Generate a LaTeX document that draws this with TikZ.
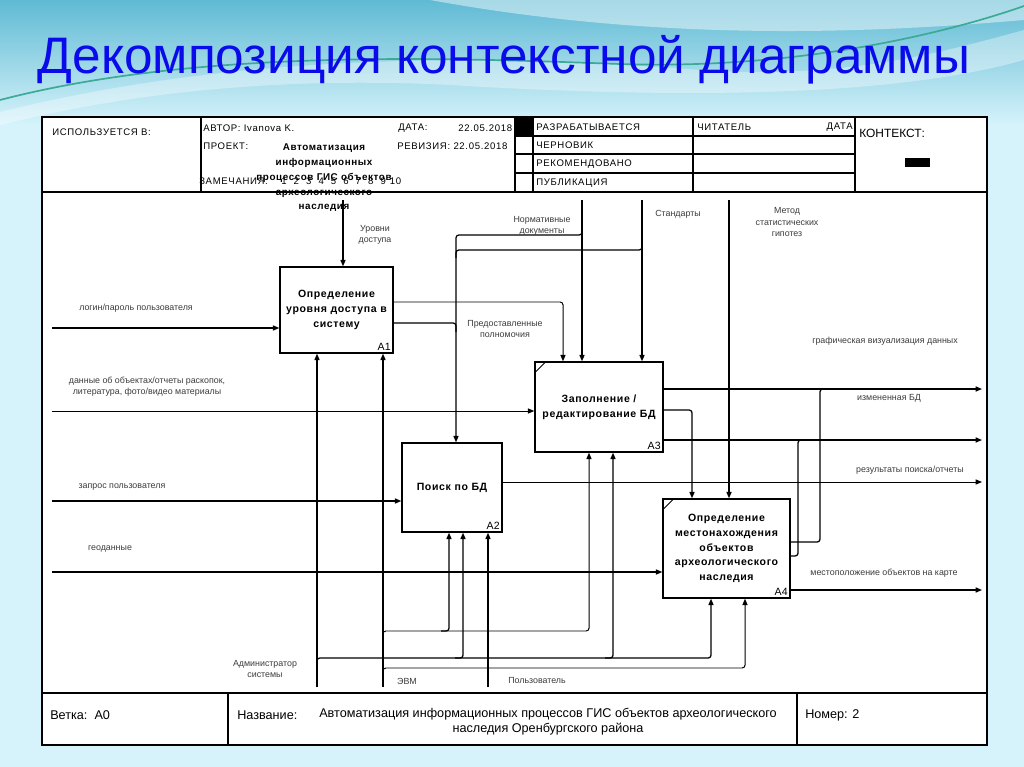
\documentclass[tikz,border=0pt]{standalone}
\usepackage{fontspec}
\setmainfont{Liberation Sans}
\newfontfamily\boxfont[LetterSpace=6]{Liberation Sans}
\newfontfamily\hdrfont[LetterSpace=7]{Liberation Sans}
\usetikzlibrary{positioning, arrows.meta, calc}
\definecolor{titleblue}{RGB}{10,10,235}
\definecolor{bglight}{RGB}{214,243,251}
\definecolor{bgtop}{RGB}{96,186,212}
\definecolor{wavegreen}{RGB}{60,170,150}
\definecolor{lblgray}{RGB}{60,60,60}

\begin{document}
\begin{tikzpicture}[
    x=0.025cm, y=-0.025cm,
    box/.style={draw, line width=1pt, inner sep=1pt, align=center, fill=white, font=\boxfont\bfseries\fontsize{7.5}{10.5}\selectfont},
    num/.style={anchor=south east, inner sep=2pt, font=\fontsize{7.5}{8}\selectfont},
    lbl/.style={inner sep=0pt, align=center, text=lblgray, font=\fontsize{6.3}{8}\selectfont},
    hdr/.style={anchor=west, inner sep=0pt, font=\hdrfont\fontsize{6.8}{8}\selectfont},
    foot/.style={anchor=west, inner sep=0pt, font=\fontsize{9}{10.7}\selectfont},
    line/.style={line width=0.9pt, rounded corners=2pt},
    lightline/.style={line width=0.7pt},
    arrow/.style={line, -{Triangle[length=4.5pt, width=3.6pt]}}
]
    \useasboundingbox (0,0) rectangle (1024,767);

    % Фон
    \fill[bglight] (0,0) rectangle (1024,767);
    \shade[top color=bgtop, bottom color=bglight] (0,0) rectangle (1024,125);
    \fill[white, opacity=0.45] (430,0) .. controls (650,40) and (850,35) .. (1024,20) -- (1024,0) -- cycle;
    \fill[white, opacity=0.35] (0,112) .. controls (250,50) and (500,55) .. (700,70) .. controls (850,80) and (950,50) .. (1024,30) -- (1024,60) .. controls (900,95) and (700,100) .. (450,85) .. controls (250,75) and (100,100) .. (0,125) -- cycle;
    \draw[wavegreen, line width=1.2pt] (0,100) .. controls (200,48) and (450,58) .. (620,64) .. controls (800,70) and (950,32) .. (1024,6);

    % Заголовок
    \node[anchor=base, text=titleblue, font=\fontsize{36.5}{40}\selectfont] (title) at (504,74) {Декомпозиция контекстной диаграммы};

    % Рамка бланка
    \fill[white] (42,117) rectangle (987,745);
    \draw[line width=1pt] (42,117) rectangle (987,745);
    \draw[line width=0.8pt] (42,192) -- (987,192);
    \draw[line width=0.8pt] (42,693) -- (987,693);
    \foreach \x in {201,515,533,693,855}
        \draw[line width=0.8pt] (\x,117) -- (\x,192);
    \foreach \y in {136,154,173}
        \draw[line width=0.8pt] (515,\y) -- (855,\y);
    \fill (515,117) rectangle (533,136);
    \fill (905,158) rectangle (930,167);
    \draw[line width=0.8pt] (228,693) -- (228,745);
    \draw[line width=0.8pt] (797,693) -- (797,745);

    % Шапка
    \node[hdr] (used) at (52,132) {ИСПОЛЬЗУЕТСЯ В:};
    \node[hdr] (author) at (203,128) {АВТОР: Ivanova K.};
    \node[hdr] (date) at (398,128) {ДАТА:};
    \node[hdr] (dateval) at (458,128) {22.05.2018};
    \node[hdr] (proj) at (203,146) {ПРОЕКТ:};
    \node[hdr] (rev) at (397,146) {РЕВИЗИЯ: 22.05.2018};
    \node[hdr] (notes) at (199,181) {ЗАМЕЧАНИЯ:};
    \foreach \i in {1,...,10}
        \node[hdr, anchor=center] (note\i) at (284+12.4*\i-12.4,181) {\i};
    \node[align=center, inner sep=0pt, font=\boxfont\bfseries\fontsize{7}{10.5}\selectfont] (projname) at (324,178) {Автоматизация\\информационных\\процессов ГИС объектов\\археологического\\наследия};
    \node[hdr] (dev) at (536,127) {РАЗРАБАТЫВАЕТСЯ};
    \node[hdr] (draft) at (536,145) {ЧЕРНОВИК};
    \node[hdr] (recom) at (536,164) {РЕКОМЕНДОВАНО};
    \node[hdr] (publ) at (536,183) {ПУБЛИКАЦИЯ};
    \node[hdr] (reader) at (697,127) {ЧИТАТЕЛЬ};
    \node[hdr, anchor=east] (rdate) at (853,127) {ДАТА};
    \node[anchor=west, inner sep=0pt, font=\fontsize{8.5}{10}\selectfont] (ctx) at (859,133) {КОНТЕКСТ:};

    % Подвал
    \node[foot] (branch) at (50,715) {Ветка:~~А0};
    \node[foot] (dname) at (237,715) {Название:};
    \node[foot, anchor=center, align=center] (dtitle) at (548,722) {Автоматизация информационных процессов ГИС объектов археологического\\наследия Оренбургского района};
    \node[foot] (numb) at (805,715) {Номер: 2};

    % Блоки
    \node[box, minimum width=2.825cm, minimum height=2.15cm] (A1) at (336.5,310) {Определение\\уровня доступа в\\систему};
    \node[box, minimum width=2.5cm, minimum height=2.225cm] (A2) at (452,487.5) {Поиск по БД};
    \node[box, minimum width=3.2cm, minimum height=2.25cm] (A3) at (599,407) {Заполнение /\\редактирование БД};
    \node[box, minimum width=3.175cm, minimum height=2.475cm] (A4) at (726.5,548.5) {Определение\\местонахождения\\объектов\\археологического\\наследия};
    \node[num] (n1) at (A1.south east) {A1};
    \node[num] (n2) at (A2.south east) {A2};
    \node[num] (n3) at (A3.south east) {A3};
    \node[num] (n4) at (A4.south east) {A4};
    \draw[line width=0.6pt] ($(A3.north west)+(1,11)$) -- ++(10,-10);
    \draw[line width=0.6pt] ($(A4.north west)+(1,11)$) -- ++(10,-10);

    % Входы
    \coordinate (in-login) at (52,328);
    \coordinate (in-data) at (52,411);
    \coordinate (in-query) at (52,501);
    \coordinate (in-geo) at (52,572);
    \draw[arrow] (in-login) -- (in-login -| A1.west);
    \draw[arrow, lightline] (in-data) -- (in-data -| A3.west);
    \draw[arrow] (in-query) -- (in-query -| A2.west);
    \draw[arrow] (in-geo) -- (in-geo -| A4.west);

    % Управление
    \coordinate (c-lvl) at (343,200);
    \coordinate (c-norm) at (582,200);
    \coordinate (c-std) at (642,200);
    \coordinate (c-meth) at (729,200);
    \coordinate (bus) at (456,235);
    \draw[arrow] (c-lvl) -- (c-lvl |- A1.north);
    \draw[arrow] (c-norm) -- (c-norm |- A3.north);
    \draw[arrow] (c-std) -- (c-std |- A3.north);
    \draw[arrow] (c-meth) -- (c-meth |- A4.north);
    \draw[arrow] (582,227) -- (c-norm |- bus) -- (bus) -- (bus |- A2.north);
    \draw[line] (642,242) -- (642,250) -- (456,250) -- (456,258);

    % Выходы
    \coordinate (out-vis) at (982,389);
    \coordinate (out-chg) at (982,440);
    \coordinate (out-res) at (982,482);
    \coordinate (out-map) at (982,590);
    \draw[arrow, lightline] (A1.east |- 0,302) -| (563,0 |- A3.north);
    \draw[line] (A1.east |- 0,323) -| (456,332);
    \draw[arrow] (A3.east |- out-vis) -- (out-vis);
    \draw[arrow] (A3.east |- 0,410) -| (692,0 |- A4.north);
    \draw[arrow] (A3.east |- out-chg) -- (out-chg);
    \draw[arrow, lightline] (A2.east |- out-res) -- (out-res);
    \draw[line] (A4.east |- 0,542) -| (820,389) -- (828,389);
    \draw[line] (A4.east |- 0,556) -| (798,440) -- (806,440);
    \draw[arrow] (A4.east |- out-map) -- (out-map);

    % Механизмы
    \coordinate (m-adm) at (317,687);
    \coordinate (m-pc) at (383,687);
    \coordinate (m-user) at (488,687);
    \draw[arrow] (m-adm) -- (m-adm |- A1.south);
    \draw[arrow] (m-pc) -- (m-pc |- A1.south);
    \draw[arrow] (m-user) -- (m-user |- A2.south);
    \draw[arrow] (317,666) -- (317,658) -| (711,0 |- A4.south);
    \draw[arrow] (455,658) -| (463,0 |- A2.south);
    \draw[arrow] (605,658) -| (613,0 |- A3.south);
    \draw[arrow, lightline] (383,639) -- (383,631) -| (589,0 |- A3.south);
    \draw[arrow] (441,631) -| (449,0 |- A2.south);
    \draw[arrow, lightline] (383,676) -- (383,668) -| (745,0 |- A4.south);

    % Подписи стрелок
    \node[lbl] (l-lvl) at (375,235) {Уровни\\доступа};
    \node[lbl] (l-login) at (136,308) {логин/пароль пользователя};
    \node[lbl] (l-data) at (147,387) {данные об объектах/отчеты раскопок,\\литература, фото/видео материалы};
    \node[lbl] (l-query) at (122,487) {запрос пользователя};
    \node[lbl] (l-geo) at (110,549) {геоданные};
    \node[lbl] (l-adm) at (265,669) {Администратор\\системы};
    \node[lbl] (l-pc) at (407,681) {ЭВМ};
    \node[lbl] (l-user) at (537,680) {Пользователь};
    \node[lbl] (l-norm) at (542,226) {Нормативные\\документы};
    \node[lbl] (l-perm) at (505,329) {Предоставленные\\полномочия};
    \node[lbl] (l-std) at (678,214) {Стандарты};
    \node[lbl] (l-meth) at (787,222) {Метод\\статистических\\гипотез};
    \node[lbl] (l-vis) at (885,341) {графическая визуализация данных};
    \node[lbl] (l-chg) at (889,398) {измененная БД};
    \node[lbl] (l-res) at (910,470) {результаты поиска/отчеты};
    \node[lbl] (l-map) at (884,573) {местоположение объектов на карте};
\end{tikzpicture}
\end{document}
